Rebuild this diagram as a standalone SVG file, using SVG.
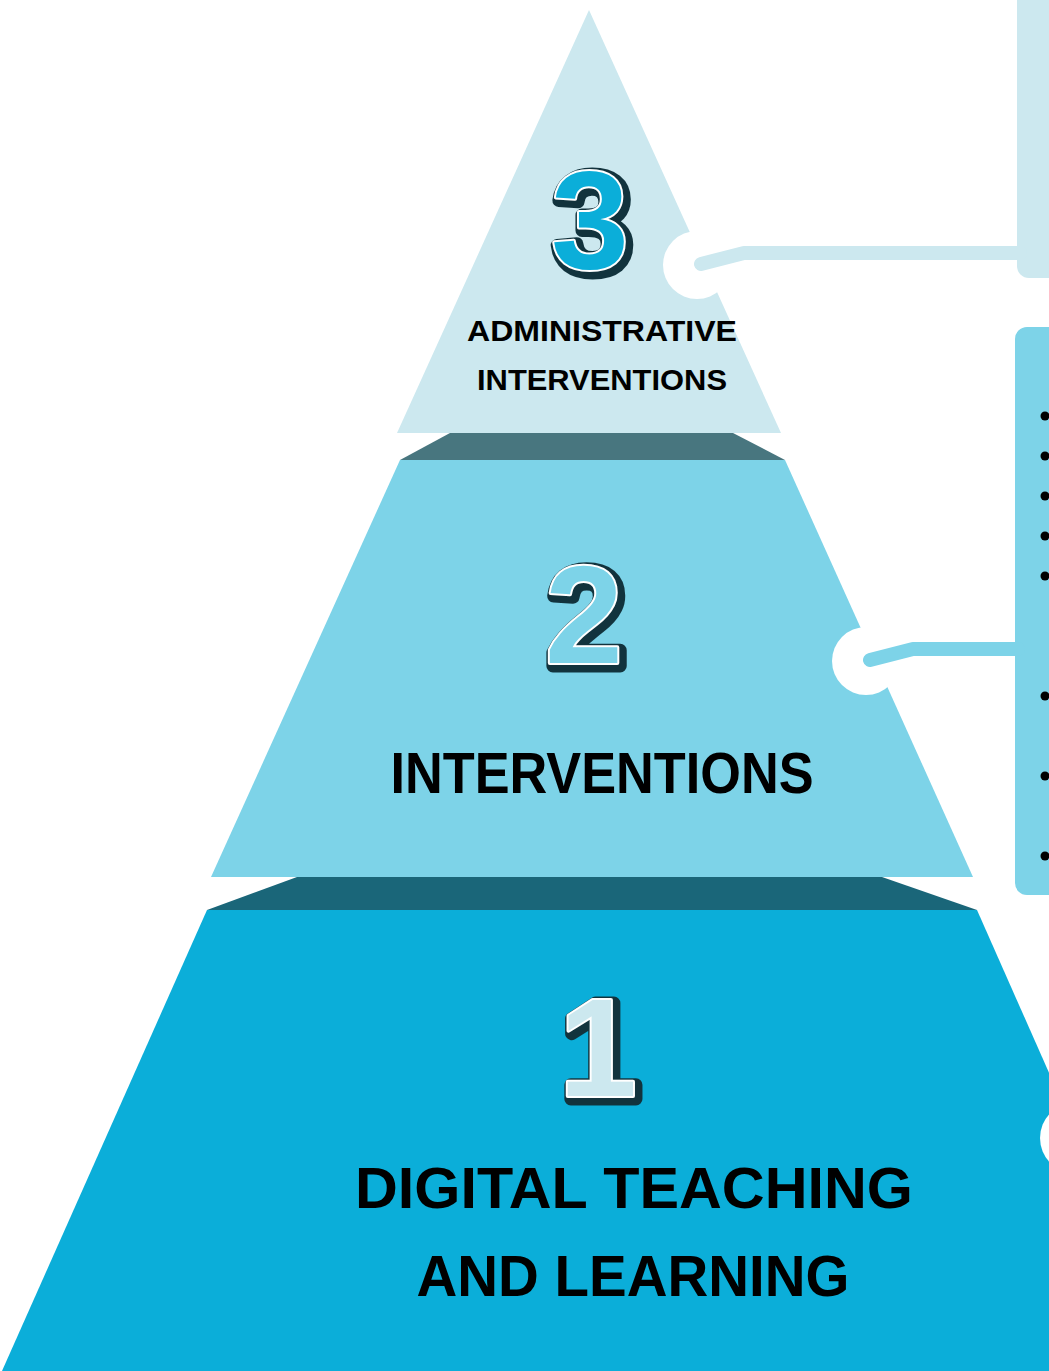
<svg xmlns="http://www.w3.org/2000/svg" xmlns:xlink="http://www.w3.org/1999/xlink" width="1049" height="1371" viewBox="0 0 1049 1371">
<style>
.lbl{font-family:"Liberation Sans",Arial,sans-serif;font-weight:700;fill:#000;text-anchor:middle}
.num{font-family:"Liberation Sans",Arial,sans-serif;font-weight:700;font-size:140px;text-anchor:middle;stroke-linejoin:round}
.sh{fill:#12333D;stroke:#12333D;stroke-width:13}
.hi{stroke:#ffffff;stroke-width:4;paint-order:stroke}
.conn{fill:none;stroke-width:14;stroke-linecap:round;stroke-linejoin:round}
</style>
<defs>
<text id="d1" class="num" x="0" y="0">1</text>
<text id="d2" class="num" x="0" y="0">2</text>
<text id="d3" class="num" x="0" y="0">3</text>
</defs>
<rect width="1049" height="1371" fill="#ffffff"/>
<g id="side-box-3"><rect x="1017" y="-20" width="60" height="298" rx="12" fill="#CCE8EF"/></g>
<g id="side-box-2">
<rect x="1015" y="327" width="60" height="568" rx="12" fill="#7DD3E8"/>
<g fill="#000">
<circle cx="1045" cy="416" r="4.5"/><circle cx="1045" cy="456" r="4.5"/><circle cx="1045" cy="496" r="4.5"/><circle cx="1045" cy="536" r="4.5"/><circle cx="1045" cy="576" r="4.5"/><circle cx="1045" cy="696" r="4.5"/><circle cx="1045" cy="776" r="4.5"/><circle cx="1045" cy="856" r="4.5"/>
</g>
</g>
<g id="tier-1">
<polygon points="297,877 882,877 977,910 207,910" fill="#1A6679"/>
<polygon points="207,910 977,910 1181,1371 2,1371" fill="#0BAED9"/>
<circle cx="1075" cy="1138" r="35" fill="#ffffff"/>
<use xlink:href="#d1" href="#d1" x="601" y="1099" class="sh"/>
<use xlink:href="#d1" href="#d1" x="598" y="1096" class="hi" fill="#CCE8EF"/>
<text class="lbl" x="634" y="1208" font-size="58" textLength="558" lengthAdjust="spacingAndGlyphs">DIGITAL TEACHING</text>
<text class="lbl" x="633" y="1296" font-size="58" textLength="433" lengthAdjust="spacingAndGlyphs">AND LEARNING</text>
</g>
<g id="tier-2">
<polygon points="450,433 733,433 785,460 400,460" fill="#48767F"/>
<polygon points="400,460 785,460 973,877 211,877" fill="#7DD3E8"/>
<circle cx="866" cy="661" r="34" fill="#ffffff"/>
<use xlink:href="#d2" href="#d2" x="587" y="666" class="sh"/>
<use xlink:href="#d2" href="#d2" x="584" y="663" class="hi" fill="#7DD3E8"/>
<text class="lbl" x="602" y="793" font-size="58" textLength="423" lengthAdjust="spacingAndGlyphs">INTERVENTIONS</text>
</g>
<g id="tier-3">
<polygon points="589,10 781,433 397,433" fill="#CCE8EF"/>
<circle cx="697" cy="265" r="34" fill="#ffffff"/>
<use xlink:href="#d3" href="#d3" x="593" y="271" class="sh"/>
<use xlink:href="#d3" href="#d3" x="590" y="268" class="hi" fill="#0BAED9"/>
<text class="lbl" x="602" y="341" font-size="30" textLength="270" lengthAdjust="spacingAndGlyphs">ADMINISTRATIVE</text>
<text class="lbl" x="602" y="390" font-size="30" textLength="250" lengthAdjust="spacingAndGlyphs">INTERVENTIONS</text>
</g>
<g id="connectors">
<polyline class="conn" points="701,264 744,253 1020,253" stroke="#CCE8EF"/>
<polyline class="conn" points="870,660 913,649 1018,649" stroke="#7DD3E8"/>
</g>
</svg>
